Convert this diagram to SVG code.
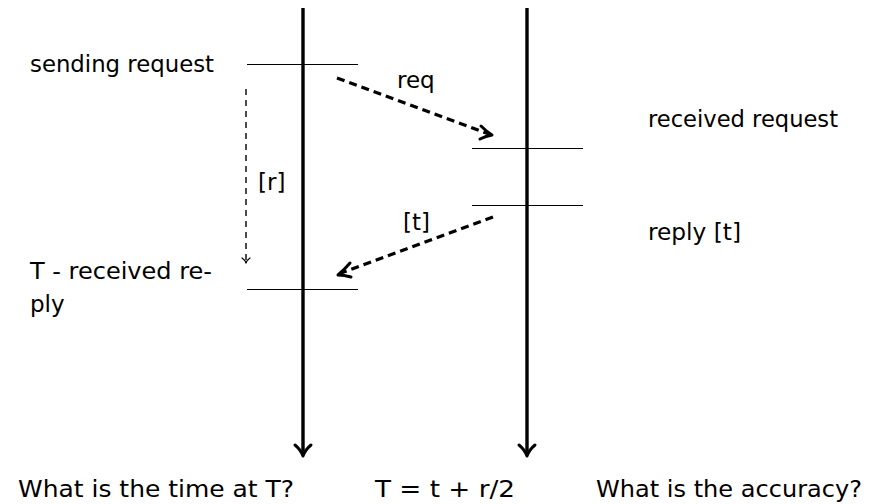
<svg xmlns="http://www.w3.org/2000/svg" width="877" height="504" viewBox="0 0 877 504">
<style>
text{font-family:"DejaVu Sans","Liberation Sans",sans-serif;fill:#000;font-size:23px}
.tl{stroke:#000;stroke-width:3.4;fill:none}
.tick{stroke:#000;stroke-width:1;fill:none}
.msg{stroke:#000;stroke-width:3.3;fill:none;stroke-dasharray:8 5}
.dur{stroke:#000;stroke-width:1.4;fill:none;stroke-dasharray:6 5}
.head{stroke:#000;fill:none;stroke-linecap:round;stroke-linejoin:round}
</style>
<rect width="877" height="504" fill="#fff"/>
<g id="timeline-client">
<line class="tl" x1="303" y1="8" x2="303" y2="454"/>
<path class="head" stroke-width="3" d="M295,445 Q301,450 303,456 Q305,450 311,445"/>
</g>
<g id="timeline-server">
<line class="tl" x1="527" y1="8" x2="527" y2="454"/>
<path class="head" stroke-width="3" d="M519,445 Q525,450 527,456 Q529,450 535,445"/>
</g>
<g id="event-send">
<line class="tick" x1="247" y1="64.5" x2="358" y2="64.5"/>
<text x="30" y="72" textLength="184" lengthAdjust="spacingAndGlyphs">sending request</text>
</g>
<g id="event-recv-request">
<line class="tick" x1="472" y1="148.5" x2="583" y2="148.5"/>
<text x="648" y="127" textLength="190" lengthAdjust="spacingAndGlyphs">received request</text>
</g>
<g id="event-reply">
<line class="tick" x1="472" y1="205.5" x2="583" y2="205.5"/>
<text x="648" y="240" textLength="93" lengthAdjust="spacingAndGlyphs">reply [t]</text>
</g>
<g id="event-recv-reply">
<line class="tick" x1="247" y1="289.5" x2="358" y2="289.5"/>
<text x="30" y="279" textLength="182" lengthAdjust="spacingAndGlyphs">T - received re-</text>
<text x="30" y="312">ply</text>
</g>
<g id="connectors">
<line class="msg" x1="337" y1="78" x2="489" y2="134"/>
<path class="head" stroke-width="3" d="M481,126 Q487,132 492,135 Q486,136 480,139"/>
<text x="397" y="88">req</text>
<line class="msg" x1="493" y1="217" x2="341" y2="273"/>
<path class="head" stroke-width="3" d="M350,263 Q344,270 338,275 Q344,275 351,277"/>
<text x="403" y="230">[t]</text>
<line class="dur" x1="246" y1="89" x2="246" y2="262"/>
<path class="head" stroke-width="1.3" d="M242,258 Q245,260 246,263 Q247,260 250,258"/>
<text x="258" y="190">[r]</text>
</g>
<g id="bottom-labels">
<text x="18" y="497" textLength="276" lengthAdjust="spacingAndGlyphs">What is the time at T?</text>
<text x="375" y="497" textLength="140" lengthAdjust="spacingAndGlyphs">T = t + r/2</text>
<text x="596" y="497" textLength="266" lengthAdjust="spacingAndGlyphs">What is the accuracy?</text>
</g>
</svg>
